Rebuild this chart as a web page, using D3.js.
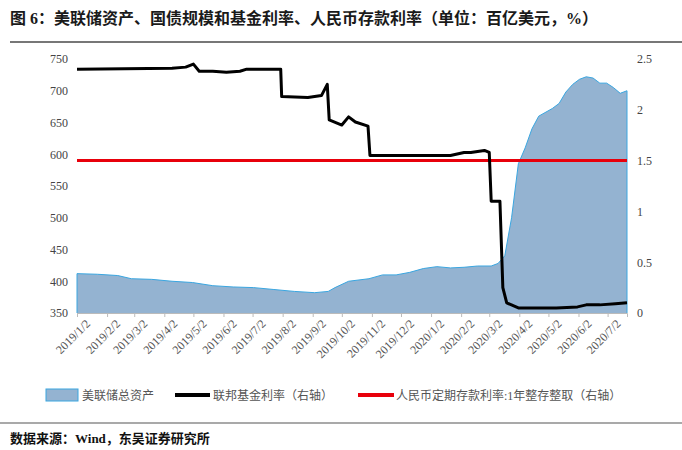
<!DOCTYPE html><html><head><meta charset="utf-8">
<script src="https://cdn.jsdelivr.net/npm/d3@7"></script>
<style>body{margin:0;background:#fff}text{font-family:"Liberation Serif","Noto Sans CJK SC",serif}</style></head><body>
<svg id="c" width="682" height="450"></svg>
<script>
const assetDates=["2019-01-02","2019-01-23","2019-02-13","2019-02-27","2019-03-20","2019-04-10","2019-05-01","2019-05-22","2019-06-12","2019-07-03","2019-07-24","2019-08-14","2019-09-04","2019-09-18","2019-09-25","2019-10-09","2019-10-30","2019-11-13","2019-11-27","2019-12-11","2019-12-25","2020-01-08","2020-01-22","2020-02-05","2020-02-19","2020-03-04","2020-03-11","2020-03-18","2020-03-25","2020-04-01","2020-04-08","2020-04-15","2020-04-22","2020-05-06","2020-05-13","2020-05-20","2020-05-27","2020-06-03","2020-06-10","2020-06-17","2020-06-24","2020-07-01","2020-07-08","2020-07-15","2020-07-22"];
const assetValues=[412,411,409,404,403,400,398,393,391,390,387,384,382,384,390,400,404,410,410,414,420,423,421,422,424,424,428,440,500,585,610,640,660,672,680,698,710,718,722,720,712,712,705,696,700];
const fedDates=["2019-01-02","2019-04-10","2019-04-24","2019-05-02","2019-05-08","2019-05-22","2019-06-05","2019-06-19","2019-06-26","2019-07-17","2019-07-31","2019-08-01","2019-08-28","2019-09-11","2019-09-17","2019-09-19","2019-10-02","2019-10-09","2019-10-16","2019-10-29","2019-10-31","2019-11-20","2019-12-31","2020-01-22","2020-02-05","2020-02-12","2020-02-19","2020-02-26","2020-03-02","2020-03-04","2020-03-13","2020-03-16","2020-03-20","2020-04-01","2020-04-20","2020-05-10","2020-06-01","2020-06-10","2020-06-24","2020-07-10","2020-07-22"];
const fedValues=[2.40,2.41,2.42,2.45,2.38,2.38,2.37,2.38,2.40,2.40,2.40,2.13,2.12,2.14,2.25,1.90,1.85,1.93,1.88,1.84,1.55,1.55,1.55,1.55,1.58,1.58,1.59,1.60,1.58,1.10,1.10,0.25,0.10,0.05,0.05,0.05,0.06,0.08,0.08,0.09,0.10];
const cnyRate=1.5;
const xTickLabels=["2019/1/2","2019/2/2","2019/3/2","2019/4/2","2019/5/2","2019/6/2","2019/7/2","2019/8/2","2019/9/2","2019/10/2","2019/11/2","2019/12/2","2020/1/2","2020/2/2","2020/3/2","2020/4/2","2020/5/2","2020/6/2","2020/7/2"];
const leftTicks=[350,400,450,500,550,600,650,700,750];
const rightTicks=[0,0.5,1,1.5,2,2.5];

const p=d3.timeParse("%Y-%m-%d"), tp=d3.timeParse("%Y/%m/%d");
const svg=d3.select("#c");
const L=77,R=627,T=59,B=313;
const x=d3.scaleTime().domain([p("2019-01-02"),p("2020-07-22")]).range([L,R]);
const y=d3.scaleLinear().domain([350,750]).range([B,T]);
const y2=d3.scaleLinear().domain([0,2.5]).range([B,T]);

svg.append("text").attr("x",10).attr("y",24).attr("font-size",16).attr("font-weight","bold").attr("fill","#1a1a1a").text("图 6：美联储资产、国债规模和基金利率、人民币存款利率（单位：百亿美元，%）");
svg.append("line").attr("x1",10).attr("x2",682).attr("y1",42).attr("y2",42).attr("stroke","#777").attr("stroke-width",2);

const ad=assetDates.map((d,i)=>({d:p(d),v:assetValues[i]}));
svg.append("path").datum(ad).attr("d",d3.area().x(d=>x(d.d)).y0(B).y1(d=>y(d.v))).attr("fill","#94b3d1");
svg.append("path").datum(ad).attr("d",d3.line().x(d=>x(d.d)).y(d=>y(d.v))).attr("fill","none").attr("stroke","#3aa6e0").attr("stroke-width",1);
svg.append("line").attr("x1",L).attr("x2",L).attr("y1",y(ad[0].v)).attr("y2",B).attr("stroke","#3aa6e0");
svg.append("line").attr("x1",R).attr("x2",R).attr("y1",y(ad[ad.length-1].v)).attr("y2",B).attr("stroke","#3aa6e0");

svg.append("line").attr("x1",L).attr("x2",R).attr("y1",y2(cnyRate)).attr("y2",y2(cnyRate)).attr("stroke","#e8000b").attr("stroke-width",3);
const fd=fedDates.map((d,i)=>({d:p(d),v:fedValues[i]}));
svg.append("path").datum(fd).attr("d",d3.line().x(d=>x(d.d)).y(d=>y2(d.v))).attr("fill","none").attr("stroke","#000").attr("stroke-width",3).attr("stroke-linejoin","round");

const ax=svg.append("g").attr("transform",`translate(0,${B})`).call(d3.axisBottom(x).tickValues(xTickLabels.map(t=>tp(t))).tickFormat(d3.timeFormat("%Y/%-m/%-d")).tickSize(4));
ax.select(".domain").attr("stroke","#bbb");ax.selectAll(".tick line").attr("stroke","#bbb");
ax.selectAll("text").attr("font-size",12).attr("fill","#555").attr("text-anchor","end").attr("transform","translate(6,4) rotate(-45)").attr("dy","0.3em").attr("dx","0");
const ay=svg.append("g").attr("transform",`translate(${L},0)`).call(d3.axisLeft(y).tickValues(leftTicks).tickSize(0).tickPadding(9));
ay.select(".domain").remove();ay.selectAll("text").attr("font-size",12).attr("fill","#444");
const ay2=svg.append("g").attr("transform",`translate(${R},0)`).call(d3.axisRight(y2).tickValues(rightTicks).tickSize(0).tickPadding(10).tickFormat(d=>d));
ay2.select(".domain").remove();ay2.selectAll("text").attr("font-size",12).attr("fill","#444");

const lg=svg.append("g").attr("font-size",12).attr("fill","#555");
lg.append("rect").attr("x",46).attr("y",389).attr("width",32).attr("height",12).attr("fill","#94b3d1").attr("stroke","#3aa6e0");
lg.append("text").attr("x",82).attr("y",400).text("美联储总资产").attr("fill","#555");
lg.append("line").attr("x1",175).attr("x2",210).attr("y1",395).attr("y2",395).attr("stroke","#000").attr("stroke-width",4);
lg.append("text").attr("x",213).attr("y",400).text("联邦基金利率（右轴）").attr("fill","#555");
lg.append("line").attr("x1",358).attr("x2",394).attr("y1",395).attr("y2",395).attr("stroke","#e8000b").attr("stroke-width",4);
lg.append("text").attr("x",396).attr("y",400).text("人民币定期存款利率:1年整存整取（右轴）").attr("fill","#555");

svg.append("line").attr("x1",0).attr("x2",682).attr("y1",423).attr("y2",423).attr("stroke","#555").attr("stroke-width",1.2);
svg.append("text").attr("x",10).attr("y",443).attr("font-size",13).attr("font-weight","bold").attr("fill","#111").text("数据来源：Wind，东吴证券研究所");
</script></body></html>
